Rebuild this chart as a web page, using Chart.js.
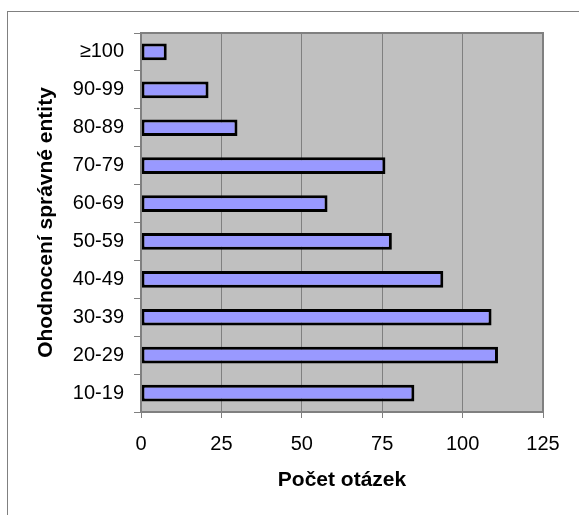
<!DOCTYPE html>
<html>
<head>
<meta charset="utf-8">
<script src="https://cdn.jsdelivr.net/npm/chart.js@4/dist/chart.umd.min.js"></script>
<style>
    body { margin: 0; background: #fff; }
    canvas { display: block; }
</style>
</head>
<body>
<canvas id="myChart" width="579" height="515"></canvas>
<script>
// Score ranges of the correct entity, top to bottom
const categories = ['≥100', '90-99', '80-89', '70-79', '60-69', '50-59', '40-49', '30-39', '20-29', '10-19'];
// Number of questions per range
const questionCounts = [8, 21, 30, 76, 58, 78, 94, 109, 111, 85];
const xTicks = [0, 25, 50, 75, 100, 125];

const FONT = 'Liberation Sans, Arial, sans-serif';

// Grey plot background, plot frame and the outer frame
const plotFrame = {
    id: 'plotFrame',
    beforeDraw(chart) {
        const { ctx, chartArea: a } = chart;
        ctx.save();
        ctx.fillStyle = '#c0c0c0';
        ctx.fillRect(a.left, a.top, a.right - a.left, a.bottom - a.top);
        ctx.restore();
    },
    afterDraw(chart) {
        const { ctx, chartArea: a } = chart;
        ctx.save();
        ctx.strokeStyle = '#808080';
        ctx.lineWidth = 2;
        ctx.strokeRect(a.left, a.top, a.right - a.left, a.bottom - a.top);
        ctx.lineWidth = 1;
        ctx.strokeRect(7.5, 11.5, 700, 700);
        ctx.restore();
    }
};

const ctx = document.getElementById('myChart').getContext('2d');
const myChart = new Chart(ctx, {
    type: 'bar',
    data: {
        labels: categories,
        datasets: [{
            data: questionCounts,
            backgroundColor: '#9999ff',
            borderColor: '#000000',
            borderWidth: 3,
            borderSkipped: false,
            categoryPercentage: 1,
            barPercentage: 0.44
        }]
    },
    options: {
        indexAxis: 'y',
        responsive: false,
        devicePixelRatio: 1,
        animation: false,
        layout: { padding: { left: 0, top: 33, right: 36, bottom: 0 } },
        plugins: {
            legend: { display: false },
            tooltip: { enabled: false }
        },
        scales: {
            x: {
                min: 0,
                max: 125,
                afterBuildTicks: scale => { scale.ticks = xTicks.map(v => ({ value: v })); },
                afterFit: scale => { scale.height = 103; },
                border: { display: false },
                grid: { color: '#808080', tickLength: 6 },
                ticks: {
                    color: '#000',
                    padding: 14,
                    maxRotation: 0,
                    font: { family: FONT, size: 20 }
                },
                title: {
                    display: true,
                    text: 'Počet otázek',
                    color: '#000',
                    padding: { bottom: 22 },
                    font: { family: FONT, size: 21, weight: 'bold' }
                }
            },
            y: {
                afterFit: scale => { scale.width = 141; },
                border: { display: false },
                grid: { color: '#808080', drawOnChartArea: false, tickLength: 7, offset: true },
                ticks: {
                    color: '#000',
                    padding: 10,
                    font: { family: FONT, size: 20 }
                },
                title: {
                    display: true,
                    text: 'Ohodnocení správné entity',
                    color: '#000',
                    padding: { top: 34 },
                    font: { family: FONT, size: 21, weight: 'bold' }
                }
            }
        }
    },
    plugins: [plotFrame]
});
</script>
</body>
</html>
